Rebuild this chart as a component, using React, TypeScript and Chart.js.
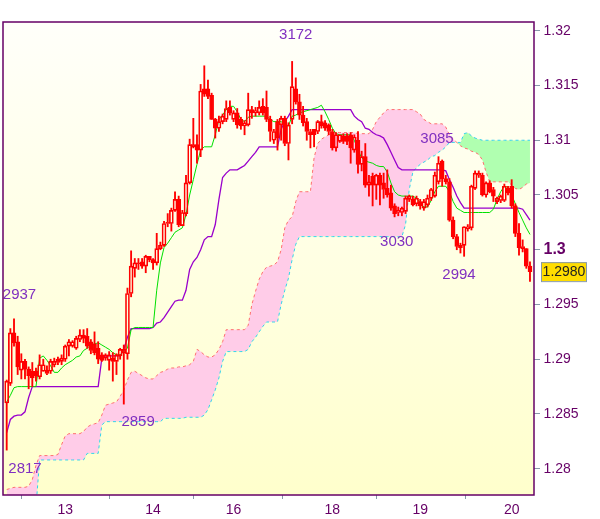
import React, { useEffect, useRef } from 'react';
import { Chart, registerables } from 'chart.js';

Chart.register(...registerables);

// ---- hourly candles (index 0..143) ----
const opens = [
  1.2860,1.2878,1.2924,1.2916,1.2890,1.2898,1.2891,1.2889,1.2889,1.2884,1.2889,1.2890,
  1.2889,1.2895,1.2900,1.2898,1.2900,1.2912,1.2912,1.2910,1.2918,1.2922,1.2921,1.2916,
  1.2914,1.2910,1.2904,1.2901,1.2899,1.2901,1.2898,1.2903,1.2906,1.2905,1.2960,1.2983,
  1.2988,1.2989,1.2985,1.2994,1.2991,1.2988,1.3001,1.3004,1.3024,1.3024,1.3036,1.3046,
  1.3022,1.3033,1.3061,1.3096,1.3096,1.3091,1.3147,1.3147,1.3141,1.3119,1.3111,1.3117,
  1.3119,1.3130,1.3119,1.3125,1.3119,1.3113,1.3114,1.3128,1.3125,1.3125,1.3131,1.3130,
  1.3119,1.3100,1.3117,1.3114,1.3120,1.3097,1.3119,1.3147,1.3135,1.3123,1.3117,1.3108,
  1.3110,1.3108,1.3117,1.3116,1.3114,1.3108,1.3093,1.3099,1.3104,1.3104,1.3105,1.3091,
  1.3100,1.3078,1.3085,1.3059,1.3067,1.3059,1.3068,1.3061,1.3056,1.3052,1.3040,1.3034,
  1.3034,1.3035,1.3046,1.3046,1.3042,1.3044,1.3038,1.3041,1.3047,1.3049,1.3062,1.3081,
  1.3065,1.3062,1.3027,1.3012,1.3004,1.3004,1.3019,1.3020,1.3056,1.3070,1.3068,1.3050,
  1.3061,1.3055,1.3044,1.3045,1.3045,1.3056,1.3058,1.3040,1.3015,1.3003,1.3001,1.2985,
];
const highs = [
  1.2881,1.2928,1.2937,1.2921,1.2905,1.2900,1.2893,1.2897,1.2892,1.2904,1.2900,1.2894,
  1.2900,1.2901,1.2902,1.2904,1.2913,1.2918,1.2917,1.2921,1.2927,1.2927,1.2928,1.2918,
  1.2925,1.2916,1.2906,1.2905,1.2907,1.2906,1.2905,1.2910,1.2913,1.2965,1.2999,1.2992,
  1.2992,1.2992,1.2995,1.2994,1.2992,1.3015,1.3007,1.3026,1.3033,1.3038,1.3053,1.3049,
  1.3036,1.3068,1.3101,1.3120,1.3105,1.3151,1.3168,1.3155,1.3143,1.3120,1.3122,1.3124,
  1.3136,1.3136,1.3127,1.3129,1.3121,1.3118,1.3143,1.3131,1.3130,1.3136,1.3138,1.3145,
  1.3122,1.3110,1.3119,1.3122,1.3122,1.3116,1.3172,1.3157,1.3142,1.3131,1.3120,1.3110,
  1.3110,1.3118,1.3123,1.3118,1.3115,1.3110,1.3107,1.3105,1.3106,1.3106,1.3107,1.3105,
  1.3108,1.3090,1.3097,1.3068,1.3070,1.3069,1.3070,1.3070,1.3073,1.3059,1.3042,1.3039,
  1.3039,1.3049,1.3050,1.3049,1.3049,1.3046,1.3046,1.3050,1.3056,1.3071,1.3085,1.3082,
  1.3068,1.3065,1.3030,1.3014,1.3006,1.3021,1.3023,1.3059,1.3072,1.3072,1.3070,1.3062,
  1.3063,1.3057,1.3048,1.3050,1.3060,1.3058,1.3064,1.3042,1.3024,1.3009,1.3001,1.2989,
];
const lows = [
  1.2817,1.2876,1.2912,1.2886,1.2882,1.2882,1.2873,1.2875,1.2880,1.2882,1.2889,1.2886,
  1.2887,1.2893,1.2895,1.2895,1.2898,1.2903,1.2911,1.2909,1.2916,1.2915,1.2910,1.2905,
  1.2904,1.2896,1.2898,1.2899,1.2890,1.2880,1.2886,1.2900,1.2859,1.2900,1.2957,1.2975,
  1.2982,1.2983,1.2979,1.2989,1.2982,1.2986,1.3000,1.3003,1.3021,1.3017,1.3035,1.3021,
  1.3022,1.3031,1.3060,1.3093,1.3079,1.3085,1.3140,1.3138,1.3119,1.3102,1.3108,1.3115,
  1.3117,1.3123,1.3117,1.3111,1.3110,1.3105,1.3113,1.3120,1.3122,1.3123,1.3123,1.3117,
  1.3099,1.3097,1.3091,1.3100,1.3095,1.3082,1.3115,1.3133,1.3119,1.3113,1.3100,1.3093,
  1.3094,1.3106,1.3111,1.3109,1.3105,1.3091,1.3090,1.3098,1.3097,1.3096,1.3079,1.3089,
  1.3070,1.3072,1.3057,1.3049,1.3040,1.3046,1.3041,1.3047,1.3048,1.3036,1.3030,1.3031,
  1.3031,1.3033,1.3044,1.3040,1.3040,1.3037,1.3036,1.3039,1.3045,1.3048,1.3060,1.3058,
  1.3060,1.3026,1.3010,1.3000,1.2997,1.2994,1.3017,1.3018,1.3055,1.3066,1.3049,1.3048,
  1.3052,1.3044,1.3042,1.3043,1.3044,1.3050,1.3038,1.3012,1.2995,1.2998,1.2983,1.2971,
];
const closes = [
  1.2880,1.2924,1.2915,1.2893,1.2898,1.2891,1.2885,1.2883,1.2885,1.2895,1.2895,1.2887,
  1.2898,1.2898,1.2897,1.2901,1.2912,1.2916,1.2916,1.2919,1.2922,1.2919,1.2912,1.2908,
  1.2906,1.2900,1.2899,1.2904,1.2904,1.2898,1.2904,1.2909,1.2909,1.2960,1.2985,1.2988,
  1.2987,1.2985,1.2994,1.2991,1.2988,1.3001,1.3004,1.3024,1.3025,1.3036,1.3046,1.3023,
  1.3034,1.3061,1.3096,1.3094,1.3091,1.3145,1.3142,1.3140,1.3119,1.3111,1.3117,1.3122,
  1.3129,1.3125,1.3125,1.3114,1.3113,1.3116,1.3128,1.3125,1.3127,1.3130,1.3125,1.3119,
  1.3108,1.3108,1.3102,1.3120,1.3097,1.3114,1.3149,1.3135,1.3123,1.3116,1.3108,1.3105,
  1.3105,1.3117,1.3113,1.3111,1.3108,1.3093,1.3105,1.3105,1.3099,1.3099,1.3093,1.3103,
  1.3078,1.3085,1.3059,1.3062,1.3059,1.3068,1.3059,1.3055,1.3050,1.3038,1.3033,1.3036,
  1.3038,1.3047,1.3049,1.3041,1.3047,1.3040,1.3044,1.3047,1.3055,1.3068,1.3079,1.3065,
  1.3062,1.3027,1.3012,1.3003,1.3002,1.3021,1.3021,1.3058,1.3070,1.3068,1.3050,1.3061,
  1.3053,1.3049,1.3047,1.3049,1.3058,1.3052,1.3040,1.3015,1.3002,1.3001,1.2985,1.2980,
];

// ---- Ichimoku lines ----
const tenkan = [
  1.2861,1.2867,1.2874,1.2875,1.2875,1.2875,1.2875,1.2875,1.2875,1.2901,1.2903,1.2899,
  1.2894,1.2888,1.2888,1.2892,1.2895,1.2897,1.2899,1.2902,1.2903,1.2908,1.2910,1.2913,
  1.2914,1.2915,1.2913,1.2911,1.2909,1.2906,1.2904,1.2904,1.2907,1.2910,1.2927,1.2929,
  1.2929,1.2929,1.2929,1.2929,1.2929,1.2963,1.2988,1.3002,1.3006,1.3011,1.3016,1.3018,
  1.3020,1.3032,1.3050,1.3064,1.3078,1.3091,1.3094,1.3094,1.3094,1.3105,1.3119,1.3123,
  1.3128,1.3131,1.3131,1.3126,1.3119,1.3117,1.3121,1.3122,1.3122,1.3122,1.3122,1.3122,
  1.3119,1.3117,1.3117,1.3117,1.3114,1.3113,1.3122,1.3123,1.3125,1.3126,1.3127,1.3128,
  1.3129,1.3130,1.3132,1.3126,1.3119,1.3111,1.3106,1.3105,1.3105,1.3105,1.3105,1.3100,
  1.3091,1.3084,1.3081,1.3080,1.3079,1.3077,1.3076,1.3076,1.3071,1.3061,1.3053,1.3050,
  1.3049,1.3049,1.3049,1.3049,1.3047,1.3043,1.3039,1.3039,1.3045,1.3053,1.3058,1.3058,
  1.3058,1.3053,1.3044,1.3038,1.3036,1.3034,1.3034,1.3034,1.3034,1.3034,1.3034,1.3034,
  1.3034,1.3037,1.3046,1.3053,1.3058,1.3057,1.3050,1.3042,1.3034,1.3027,1.3020,1.3014,
];
const kijun = [
  1.2833,1.2845,1.2848,1.2849,1.2849,1.2852,1.2865,1.2875,1.2875,1.2875,1.2875,1.2875,
  1.2875,1.2875,1.2875,1.2875,1.2875,1.2875,1.2875,1.2875,1.2875,1.2875,1.2875,1.2875,
  1.2875,1.2875,1.2901,1.2903,1.2903,1.2903,1.2903,1.2903,1.2909,1.2920,1.2928,1.2928,
  1.2928,1.2928,1.2928,1.2928,1.2929,1.2933,1.2934,1.2938,1.2943,1.2948,1.2953,1.2954,
  1.2954,1.2963,1.2982,1.2989,1.2993,1.3000,1.3009,1.3012,1.3012,1.3023,1.3046,1.3066,
  1.3070,1.3073,1.3073,1.3073,1.3075,1.3077,1.3081,1.3085,1.3089,1.3094,1.3094,1.3094,
  1.3094,1.3094,1.3094,1.3110,1.3117,1.3122,1.3128,1.3128,1.3128,1.3128,1.3128,1.3128,
  1.3128,1.3128,1.3128,1.3128,1.3128,1.3128,1.3128,1.3128,1.3128,1.3128,1.3128,1.3122,
  1.3119,1.3117,1.3111,1.3110,1.3107,1.3105,1.3104,1.3102,1.3096,1.3089,1.3082,1.3075,
  1.3073,1.3073,1.3073,1.3073,1.3073,1.3073,1.3073,1.3073,1.3073,1.3073,1.3073,1.3073,
  1.3072,1.3064,1.3057,1.3049,1.3043,1.3038,1.3038,1.3038,1.3038,1.3038,1.3038,1.3038,
  1.3038,1.3038,1.3038,1.3038,1.3038,1.3038,1.3038,1.3038,1.3038,1.3037,1.3032,1.3027,
];
const spanA = [
  1.2781,1.2782,1.2783,1.2783,1.2783,1.2783,1.2784,1.2790,1.2803,1.2812,1.2812,1.2812,
  1.2812,1.2812,1.2813,1.2822,1.2830,1.2832,1.2832,1.2832,1.2832,1.2834,1.2838,1.2840,
  1.2841,1.2842,1.2849,1.2858,1.2859,1.2860,1.2861,1.2866,1.2872,1.2881,1.2888,1.2889,
  1.2887,1.2885,1.2883,1.2882,1.2882,1.2885,1.2888,1.2889,1.2891,1.2892,1.2892,1.2893,
  1.2893,1.2894,1.2895,1.2898,1.2909,1.2907,1.2904,1.2902,1.2902,1.2904,1.2909,1.2916,
  1.2927,1.2927,1.2927,1.2927,1.2927,1.2927,1.2931,1.2950,1.2962,1.2973,1.2980,1.2984,
  1.2985,1.2986,1.2989,1.3000,1.3020,1.3027,1.3030,1.3044,1.3053,1.3053,1.3053,1.3053,
  1.3084,1.3097,1.3101,1.3103,1.3105,1.3107,1.3107,1.3107,1.3107,1.3107,1.3107,1.3107,
  1.3106,1.3106,1.3106,1.3106,1.3110,1.3117,1.3121,1.3125,1.3128,1.3128,1.3128,1.3128,
  1.3128,1.3128,1.3128,1.3128,1.3126,1.3124,1.3119,1.3117,1.3115,1.3115,1.3115,1.3115,
  1.3112,1.3105,1.3101,1.3098,1.3095,1.3093,1.3092,1.3090,1.3089,1.3087,1.3082,1.3071,
  1.3062,1.3062,1.3062,1.3062,1.3062,1.3062,1.3059,1.3056,1.3055,1.3057,1.3060,1.3061,
];
const spanB = [
  1.2765,1.2765,1.2765,1.2765,1.2765,1.2765,1.2765,1.2765,1.2765,1.2808,1.2808,1.2808,
  1.2808,1.2808,1.2808,1.2808,1.2808,1.2808,1.2808,1.2808,1.2808,1.2808,1.2814,1.2814,
  1.2814,1.2814,1.2840,1.2843,1.2843,1.2843,1.2843,1.2843,1.2843,1.2843,1.2843,1.2843,
  1.2843,1.2843,1.2843,1.2843,1.2843,1.2843,1.2843,1.2846,1.2846,1.2846,1.2846,1.2846,
  1.2846,1.2847,1.2847,1.2847,1.2847,1.2847,1.2849,1.2854,1.2863,1.2872,1.2883,1.2898,
  1.2907,1.2907,1.2907,1.2907,1.2907,1.2907,1.2909,1.2916,1.2920,1.2925,1.2930,1.2934,
  1.2934,1.2934,1.2934,1.2950,1.2963,1.2974,1.2991,1.3005,1.3012,1.3012,1.3012,1.3012,
  1.3012,1.3012,1.3012,1.3012,1.3012,1.3012,1.3012,1.3012,1.3012,1.3012,1.3012,1.3012,
  1.3012,1.3012,1.3012,1.3012,1.3012,1.3012,1.3012,1.3012,1.3012,1.3012,1.3012,1.3012,
  1.3012,1.3023,1.3055,1.3071,1.3075,1.3078,1.3080,1.3082,1.3085,1.3086,1.3089,1.3091,
  1.3094,1.3098,1.3098,1.3098,1.3098,1.3106,1.3107,1.3104,1.3102,1.3101,1.3100,1.3100,
  1.3100,1.3100,1.3100,1.3100,1.3100,1.3100,1.3100,1.3100,1.3100,1.3100,1.3100,1.3100,
];

// ---- axes ----
const xTickIndex = [16, 40, 62, 89, 113, 138];
const xTickLabels = ['13', '14', '16', '18', '19', '20'];
const yTicks = [1.28, 1.285, 1.29, 1.295, 1.3, 1.305, 1.31, 1.315, 1.32];
const yTickLabels = ['1.28', '1.285', '1.29', '1.295', '1.3', '1.305', '1.31', '1.315', '1.32'];

// ---- extreme-price notes ----
const noteTexts = ['3172', '2937', '2817', '2859', '3030', '3085', '2994'];
const noteIndex = [79.0, 3.5, 5.0, 35.9, 106.6, 117.6, 123.6];
const notePrice = [1.3196, 1.2959, 1.2800, 1.2843, 1.3007, 1.3101, 1.2977];

const FONT = '"Liberation Sans", Arial, sans-serif';
const PURPLE = '#660066';
const RED = '#ff0000';

export default function App() {
  const ref = useRef<HTMLCanvasElement>(null);

  useEffect(() => {
    const idx = opens.map((_, i) => i);
    const upperWick = idx.map((i) => ({ x: i, y: [Math.max(opens[i], closes[i]), highs[i]] }));
    const lowerWick = idx.map((i) => ({ x: i, y: [lows[i], Math.min(opens[i], closes[i])] }));
    const bodies = idx.map((i) => ({ x: i, y: [opens[i], closes[i]] }));
    const pts = (arr: number[]) => arr.map((v, i) => ({ x: i, y: v }));

    const bgPlugin = {
      id: 'bgPlugin',
      beforeDraw(chart: any) {
        const { ctx, chartArea: a } = chart;
        ctx.save();
        ctx.fillStyle = '#ffffff';
        ctx.fillRect(0, 0, chart.width, chart.height);
        const g = ctx.createLinearGradient(0, a.top, 0, a.bottom);
        g.addColorStop(0, '#fffffa');
        g.addColorStop(1, '#ffffcc');
        ctx.fillStyle = g;
        ctx.fillRect(a.left, a.top, a.right - a.left, a.bottom - a.top);
        ctx.restore();
      },
    };

    const overlayPlugin = {
      id: 'overlayPlugin',
      afterDraw(chart: any) {
        const { ctx, chartArea: a, scales } = chart;
        const xs = scales.x;
        const ys = scales.y;
        ctx.save();
        ctx.beginPath();
        ctx.rect(a.left, a.top, a.right - a.left, a.bottom - a.top);
        ctx.clip();
        ctx.font = `15px ${FONT}`;
        ctx.fillStyle = '#8030c0';
        ctx.textAlign = 'center';
        ctx.textBaseline = 'middle';
        noteTexts.forEach((t, k) => {
          ctx.fillText(t, xs.getPixelForValue(noteIndex[k]), ys.getPixelForValue(notePrice[k]));
        });
        ctx.restore();

        ctx.save();
        ctx.strokeStyle = PURPLE;
        ctx.lineWidth = 1.5;
        ctx.strokeRect(a.left, a.top, a.right - a.left, a.bottom - a.top);
        const last = closes[closes.length - 1];
        const py = ys.getPixelForValue(last);
        const bx = a.right + 7;
        ctx.fillStyle = '#ffdd00';
        ctx.fillRect(bx, py - 9.5, 45, 19);
        ctx.strokeStyle = '#8899aa';
        ctx.lineWidth = 1;
        ctx.strokeRect(bx + 0.5, py - 9, 45, 19);
        ctx.fillStyle = '#222222';
        ctx.font = `14px ${FONT}`;
        ctx.textAlign = 'center';
        ctx.textBaseline = 'middle';
        ctx.fillText(last.toFixed(4), bx + 23, py + 0.5);
        ctx.restore();
      },
    };

    const chart = new Chart(ref.current as HTMLCanvasElement, {
      type: 'bar',
      data: {
        datasets: [
          { type: 'bar', data: upperWick as any, backgroundColor: RED, borderWidth: 0, barThickness: 1.2, grouped: false },
          { type: 'bar', data: lowerWick as any, backgroundColor: RED, borderWidth: 0, barThickness: 1.2, grouped: false },
          {
            type: 'bar',
            data: bodies as any,
            backgroundColor: idx.map((i) => (closes[i] < opens[i] ? RED : 'rgba(0,0,0,0)')),
            borderColor: RED,
            borderWidth: 1,
            borderSkipped: false,
            barThickness: 4,
            minBarLength: 1,
            grouped: false,
          },
          { type: 'line', data: pts(tenkan), borderColor: '#00e000', borderWidth: 1, pointRadius: 0, fill: false, tension: 0 },
          { type: 'line', data: pts(kijun), borderColor: '#9900cc', borderWidth: 1.3, pointRadius: 0, fill: false, tension: 0 },
          {
            type: 'line',
            data: pts(spanA),
            borderColor: '#ff6f6f',
            borderDash: [3, 3],
            borderWidth: 1,
            pointRadius: 0,
            tension: 0,
            fill: { target: '+1', above: '#ffcce8', below: '#b0ffb0' },
          },
          { type: 'line', data: pts(spanB), borderColor: '#33d3ee', borderDash: [3, 3], borderWidth: 1, pointRadius: 0, tension: 0, fill: false },
        ] as any,
      },
      options: {
        animation: false,
        responsive: false,
        devicePixelRatio: 1,
        events: [],
        layout: { padding: { left: 3, top: 22, right: 0, bottom: 0 } },
        plugins: {
          legend: { display: false },
          tooltip: { enabled: false },
          filler: { drawTime: 'beforeDatasetsDraw' },
        } as any,
        scales: {
          x: {
            type: 'linear',
            min: -1.01,
            max: 144.1,
            offset: false,
            afterBuildTicks: (s: any) => {
              s.ticks = xTickIndex.map((v) => ({ value: v }));
            },
            afterFit: (s: any) => {
              s.height = 24;
            },
            grid: { drawOnChartArea: false, drawTicks: true, tickLength: 4, tickColor: '#8899aa' },
            border: { display: false },
            ticks: {
              autoSkip: false,
              maxRotation: 0,
              padding: 3,
              color: PURPLE,
              font: { family: FONT, size: 14 },
              callback: (_v: any, i: number) => xTickLabels[i],
            },
          },
          y: {
            type: 'linear',
            position: 'right',
            min: 1.2776,
            max: 1.3208,
            afterBuildTicks: (s: any) => {
              s.ticks = yTicks.map((v) => ({ value: v }));
            },
            afterFit: (s: any) => {
              s.width = 66;
            },
            grid: { drawOnChartArea: false, drawTicks: true, tickLength: 6, tickColor: '#8899aa' },
            border: { display: false },
            ticks: {
              padding: 3.5,
              color: PURPLE,
              font: (c: any) =>
                c.tick && Math.abs(c.tick.value - 1.3) < 1e-9
                  ? { family: FONT, size: 16, weight: 'bold' }
                  : { family: FONT, size: 14 },
              callback: (_v: any, i: number) => yTickLabels[i],
            },
          },
        } as any,
      },
      plugins: [bgPlugin, overlayPlugin],
    });

    return () => chart.destroy();
  }, []);

  return (
    <div style={{ position: 'fixed', left: 0, top: 0, width: 600, height: 519, background: '#ffffff' }}>
      <canvas ref={ref} width={600} height={519} style={{ display: 'block' }} />
    </div>
  );
}
